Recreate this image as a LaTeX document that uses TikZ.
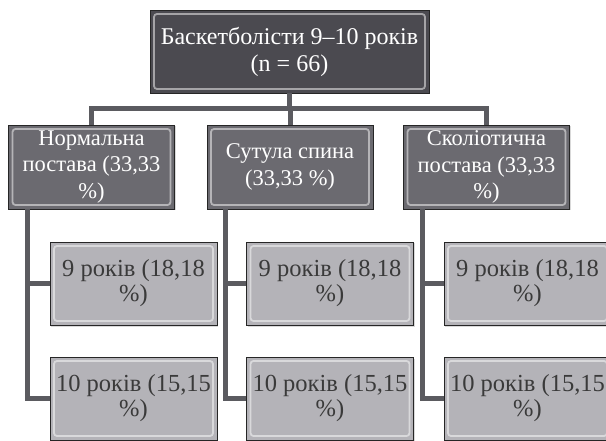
\documentclass[tikz,border=0pt]{standalone}
\usepackage{fontspec}
\setmainfont{Liberation Serif}
\usetikzlibrary{shadows}

\definecolor{rootgray}{HTML}{4B4A50}
\definecolor{midgray}{HTML}{6B6A70}
\definecolor{lightgray}{HTML}{B4B3B8}
\definecolor{linkgray}{HTML}{5B5B60}
\definecolor{textdark}{HTML}{3A3A3A}

\begin{document}
\begin{tikzpicture}[x=1pt,y=-1pt,
  bevel/.style={path picture={
    \draw[white,opacity=0.5,line width=1.8pt,rounded corners=3pt]
      ([shift={(4pt,4pt)}]path picture bounding box.south west) rectangle
      ([shift={(-4pt,-4pt)}]path picture bounding box.north east);}},
  box/.style={draw=black!85, line width=0.8pt, bevel, align=center, inner sep=0pt,
    drop shadow={shadow xshift=1pt,shadow yshift=-1.5pt,opacity=0.3}},
  rootbox/.style={box, fill=rootgray, text=white, font=\fontsize{24}{27}\selectfont,
    minimum width=279pt, minimum height=83pt},
  groupbox/.style={box, fill=midgray, text=white, font=\fontsize{22.5}{26.5}\selectfont,
    minimum width=166pt, minimum height=84pt},
  agebox/.style={box, fill=lightgray, text=textdark, font=\fontsize{24.5}{25}\selectfont,
    minimum width=167pt, minimum height=83pt},
  link/.style={draw=linkgray, line width=5pt}]

\useasboundingbox (0,0) rectangle (606,441);

\coordinate (bar) at (0,109);

\node[rootbox] (root) at (289.5,51.5) {Баскетболісти 9–10 років\\(n = 66)};

\node[groupbox] (norm) at (91.5,167) {Нормальна\\постава (33,33\\\%)};
\node[groupbox] (sut) at (290,167) {Сутула спина\\(33,33 \%)};
\node[groupbox] (scol) at (486.5,167) {Сколіотична\\постава (33,33\\\%)};

\node[agebox] (norm9) at (133.5,283.5) {9 років (18,18\\\%)};
\node[agebox] (norm10) at (133.5,398.5) {10 років (15,15\\\%)};
\node[agebox] (sut9) at (330,283.5) {9 років (18,18\\\%)};
\node[agebox] (sut10) at (330,398.5) {10 років (15,15\\\%)};
\node[agebox] (scol9) at (527.5,283.5) {9 років (18,18\\\%)};
\node[agebox] (scol10) at (527.5,398.5) {10 років (15,15\\\%)};

% root to groups
\draw[link] (root.south) -- (root.south |- bar);
\draw[link] (norm.north) |- (bar -| scol.north) -- (scol.north);
\draw[link] (sut.north) -- (sut.north |- bar);

% groups to ages
\foreach \g in {norm, sut, scol} {
  \coordinate (\g top) at ([xshift=19pt]\g.south west);
  \draw[link] (\g top) |- (\g10.west);
  \draw[link] (\g top |- \g9.west) -- (\g9.west);
}

\end{tikzpicture}
\end{document}
